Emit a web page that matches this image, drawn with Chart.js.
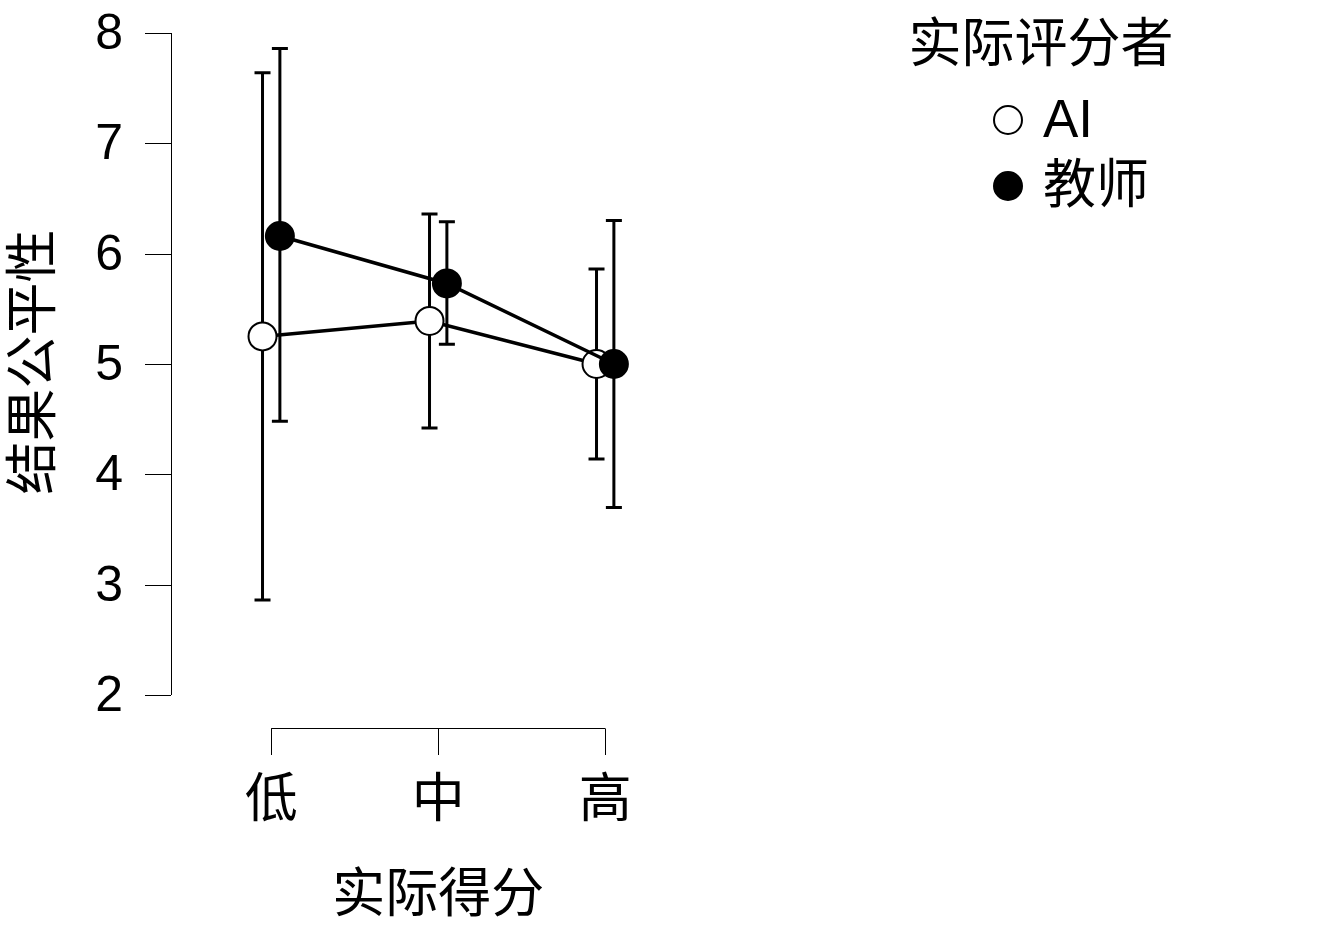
<!DOCTYPE html>
<html>
<head>
<meta charset="utf-8">
<script src="https://cdn.jsdelivr.net/npm/chart.js@4"></script>
<style>
  html, body { margin: 0; padding: 0; background: #fff; }
  #c { display: block; }
</style>
</head>
<body>
<canvas id="c" width="1343" height="937"></canvas>
<script>
// data
const categories = ["低", "中", "高"];
const aiMean = [5.25, 5.39, 5.0];
const aiLow = [2.86, 4.42, 4.14];
const aiHigh = [7.64, 6.36, 5.86];
const teacherMean = [6.16, 5.73, 5.0];
const teacherLow = [4.48, 5.18, 3.70];
const teacherHigh = [7.86, 6.29, 6.30];
const yTicks = [2, 3, 4, 5, 6, 7, 8];
const seriesNames = ["AI", "教师"];

const FONT = '"Liberation Sans", Arial, "Noto Sans CJK SC", sans-serif';
const DODGE = 0.052;

const toPoints = (vals, off) => vals.map((v, i) => ({ x: i + 1 + off, y: v }));

/* === error bars, drawn under the points */
const errorBarPlugin = {
  id: "errorBars",
  beforeDatasetsDraw(chart) {
    const ctx = chart.ctx;
    const xs = chart.scales.x, ys = chart.scales.y;
    const sets = [
      { lo: aiLow, hi: aiHigh, off: -DODGE },
      { lo: teacherLow, hi: teacherHigh, off: DODGE }
    ];
    ctx.save();
    ctx.strokeStyle = "#000";
    ctx.lineWidth = 3;
    sets.forEach(s => {
      s.lo.forEach((lo, i) => {
        const x = xs.getPixelForValue(i + 1 + s.off);
        const y0 = ys.getPixelForValue(lo);
        const y1 = ys.getPixelForValue(s.hi[i]);
        ctx.beginPath();
        ctx.moveTo(x, y0); ctx.lineTo(x, y1);
        ctx.moveTo(x - 8, y0); ctx.lineTo(x + 8, y0);
        ctx.moveTo(x - 8, y1); ctx.lineTo(x + 8, y1);
        ctx.stroke();
      });
    });
    ctx.restore();
  }
};

/* === R-style axes, titles and legend */
const axesPlugin = {
  id: "rAxes",
  afterDraw(chart) {
    const ctx = chart.ctx;
    const xs = chart.scales.x, ys = chart.scales.y;
    const left = chart.chartArea.left;
    ctx.save();
    ctx.fillStyle = "#000";
    ctx.strokeStyle = "#000";
    ctx.lineWidth = 1;

    // y axis
    const yTop = ys.getPixelForValue(yTicks[yTicks.length - 1]);
    const yBot = ys.getPixelForValue(yTicks[0]);
    ctx.beginPath();
    ctx.moveTo(left + 0.5, yTop); ctx.lineTo(left + 0.5, yBot);
    ctx.stroke();
    ctx.font = "50px " + FONT;
    ctx.textAlign = "right";
    ctx.textBaseline = "middle";
    yTicks.forEach(t => {
      const y = Math.round(ys.getPixelForValue(t)) + 0.5;
      ctx.beginPath();
      ctx.moveTo(left - 26, y); ctx.lineTo(left, y);
      ctx.stroke();
      ctx.fillText(String(t), 123, y + 2);
    });

    // x axis bracket
    const xa = xs.getPixelForValue(1), xb = xs.getPixelForValue(categories.length);
    const axY = 728.5;
    ctx.beginPath();
    ctx.moveTo(xa, axY); ctx.lineTo(xb, axY);
    categories.forEach((c, i) => {
      const x = Math.round(xs.getPixelForValue(i + 1)) + 0.5;
      ctx.moveTo(x, axY); ctx.lineTo(x, 755);
    });
    ctx.stroke();
    ctx.font = "53px " + FONT;
    ctx.textAlign = "center";
    categories.forEach((c, i) => {
      ctx.fillText(c, xs.getPixelForValue(i + 1), 802);
    });

    // axis titles
    ctx.fillText("实际得分", xs.getPixelForValue(2), 897);
    ctx.save();
    ctx.translate(36, 362);
    ctx.rotate(-Math.PI / 2);
    ctx.fillText("结果公平性", 0, 0);
    ctx.restore();

    // legend
    ctx.fillText("实际评分者", 1041, 47);
    ctx.textAlign = "left";
    const rows = [120, 186];
    rows.forEach((y, i) => {
      ctx.beginPath();
      ctx.arc(1008, y, 14, 0, Math.PI * 2);
      ctx.fillStyle = i === 0 ? "#fff" : "#000";
      ctx.fill();
      ctx.lineWidth = 2;
      ctx.stroke();
      ctx.fillStyle = "#000";
      ctx.fillText(seriesNames[i], 1043, y + 2);
    });
    ctx.restore();
  }
};

Chart.register(errorBarPlugin, axesPlugin);

new Chart(document.getElementById("c"), {
  type: "line",
  data: {
    datasets: [
      {
        label: seriesNames[0],
        data: toPoints(aiMean, -DODGE),
        order: 1,
        borderColor: "#000",
        borderWidth: 3.5,
        pointRadius: 14,
        pointBorderWidth: 2,
        pointBackgroundColor: "#fff",
        pointBorderColor: "#000",
        tension: 0
      },
      {
        label: seriesNames[1],
        data: toPoints(teacherMean, DODGE),
        order: 0,
        borderColor: "#000",
        borderWidth: 3.5,
        pointRadius: 14,
        pointBorderWidth: 2,
        pointBackgroundColor: "#000",
        pointBorderColor: "#000",
        tension: 0
      }
    ]
  },
  options: {
    responsive: false,
    animation: false,
    devicePixelRatio: 1,
    layout: { padding: { left: 171, top: 33, right: 570.8, bottom: 242 } },
    scales: {
      x: { type: "linear", min: 0.4, max: 4.0, display: false },
      y: { type: "linear", min: 2, max: 8, display: false }
    },
    plugins: { legend: { display: false }, tooltip: { enabled: false } },
    clip: false
  }
});
</script>
</body>
</html>
